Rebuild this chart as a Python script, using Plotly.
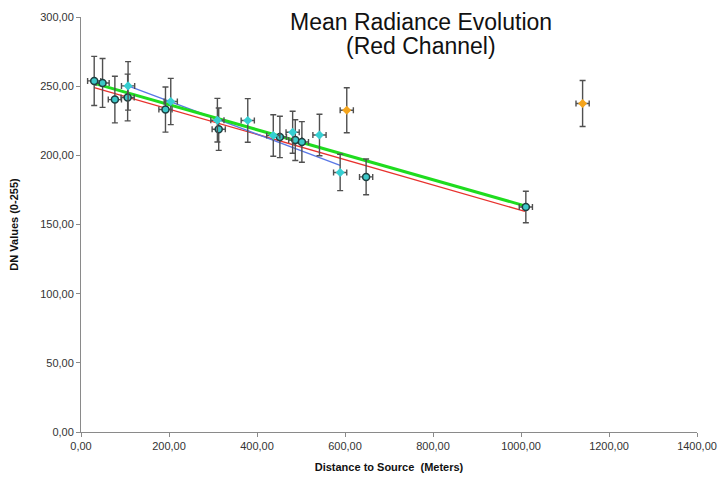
import plotly.graph_objects as go

# points (distance in m, DN value)
dist_a = [30, 49, 77, 106, 192, 313, 452, 487, 502, 648, 1011]
dn_a = [253.8, 252.3, 240.3, 241.8, 233.1, 218.9, 213.3, 211.0, 209.7, 184.4, 162.6]

dist_b = [107, 204, 310, 379, 437, 481, 542, 589]
dn_b = [250.2, 238.9, 225.4, 225.2, 214.3, 216.7, 214.7, 187.6]

dist_out = [604, 1140]
dn_out = [232.6, 237.5]

# trend line end points
red_x = [30, 1009]
red_y = [249.0, 159.5]
green_x = [30, 1009]
green_y = [252.0, 163.5]
blue_x = [107, 589]
blue_y = [250.2, 192.8]

x_tick_vals = [0, 200, 400, 600, 800, 1000, 1200, 1400]
y_tick_vals = [0, 50, 100, 150, 200, 250, 300]

font = "Liberation Sans, Arial, sans-serif"
err_col = "#505050"


def errs():
    ex = dict(type="constant", value=15, color=err_col, thickness=1.4, width=3)
    ey = dict(type="percent", value=7, color=err_col, thickness=1.4, width=3)
    return ex, ey


fig = go.Figure()

fig.add_trace(go.Scatter(x=red_x, y=red_y, mode="lines",
                         line=dict(color="#e8322e", width=1.3), showlegend=False))
fig.add_trace(go.Scatter(x=blue_x, y=blue_y, mode="lines",
                         line=dict(color="#5a78e6", width=1.3), showlegend=False))
fig.add_trace(go.Scatter(x=green_x, y=green_y, mode="lines",
                         line=dict(color="#1fdc1f", width=3), showlegend=False))

ex, ey = errs()
fig.add_trace(go.Scatter(x=dist_a, y=dn_a, mode="markers", error_x=ex, error_y=ey,
                         marker=dict(symbol="circle", size=7, color="#3cc8c8",
                                     line=dict(color="#1f3f40", width=1.5)),
                         showlegend=False))
ex, ey = errs()
fig.add_trace(go.Scatter(x=dist_b, y=dn_b, mode="markers", error_x=ex, error_y=ey,
                         marker=dict(symbol="diamond", size=7, color="#36cfd2",
                                     line=dict(width=0)),
                         showlegend=False))
ex, ey = errs()
fig.add_trace(go.Scatter(x=dist_out, y=dn_out, mode="markers", error_x=ex, error_y=ey,
                         marker=dict(symbol="diamond", size=7, color="#f4a41c",
                                     line=dict(width=0)),
                         showlegend=False))

axis_common = dict(showgrid=False, zeroline=False, showline=True, linecolor="#8a8a8a",
                   linewidth=1, ticks="outside", ticklen=4, tickcolor="#8a8a8a",
                   tickformat=".2f", automargin=False,
                   tickfont=dict(family=font, size=11, color="#333333"))

fig.update_layout(
    width=721, height=479,
    paper_bgcolor="white", plot_bgcolor="white",
    separators=",.",
    margin=dict(l=81, r=24, t=17, b=47),
    xaxis=dict(range=[0, 1400], tickvals=x_tick_vals,
               title=dict(text="<b>Distance to Source  (Meters)</b>", standoff=12,
                          font=dict(family=font, size=11, color="#111111")),
               **axis_common),
    yaxis=dict(range=[0, 300], tickvals=y_tick_vals,
               title=dict(text="<b>DN Values (0-255)</b>", standoff=19,
                          font=dict(family=font, size=11, color="#111111")),
               **axis_common),
)

# title as two lines so the spacing matches
title_lines = ["Mean Radiance Evolution", "(Red Channel)"]
for line, ypix in zip(title_lines, [22, 46]):
    fig.add_annotation(text=line, xref="paper", yref="paper",
                       x=(421 - 81) / 616, xanchor="center",
                       y=1 - (ypix - 17) / 415, yanchor="middle",
                       showarrow=False, font=dict(family=font, size=23, color="#111111"))

fig.write_html("out.html", config={"displayModeBar": False},
               post_script="document.body.style.margin='0';")
